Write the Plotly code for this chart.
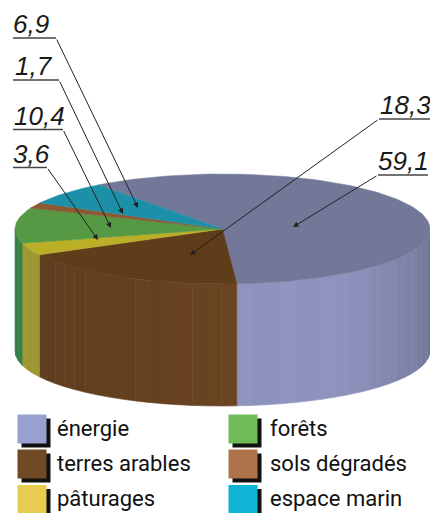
import math
import plotly.graph_objects as go

# ---- data ----
categories = ["énergie", "terres arables", "pâturages", "forêts", "sols dégradés", "espace marin"]
values = [59.1, 18.3, 3.6, 10.4, 1.7, 6.9]
value_labels = ["59,1", "18,3", "3,6", "10,4", "1,7", "6,9"]

# ---- styles ----
top_colors = ["#737899", "#5f3c1a", "#bcaf28", "#559944", "#8b5a35", "#1c90a8"]
wall_colors = ["#8e93bd", "#6b4522", "#b8b03a", "#409a54", "#7a5030", "#1c90a8"]
legend_colors = ["#98a0d0", "#6f4a25", "#e8cc50", "#6fbb55", "#ae734a", "#10b4d4"]

CX, CY, A, B, DEPTH = 222.5, 229.0, 207.5, 55.0, 122.0
START_DEG = 126.7
W, H = 430, 513


def pt(deg, dy=0.0):
    r = math.radians(deg)
    return CX + A * math.cos(r), CY - B * math.sin(r) + dy


def shade(hex_color, f):
    rgb = [int(hex_color[i:i + 2], 16) for i in (1, 3, 5)]
    return "#%02x%02x%02x" % tuple(min(255, int(c * f)) for c in rgb)


def wall_factor(deg):
    if deg < 275:
        return 0.82 + 0.18 * (deg - 180) / 95
    if deg < 305:
        return 1.0
    return 1.0 - 0.22 * (deg - 305) / 55


fig = go.Figure()

# wedge angular extents from the values
total = sum(values)
spans = []
cur = START_DEG
for v in values:
    nxt = cur - v / total * 360
    spans.append((cur, nxt))
    cur = nxt

# walls (front half only), drawn as facets
for (a0, a1), col in zip(spans, wall_colors):
    hi, lo = a0, a1
    # normalise so the visible range is 180..360
    for shift in (0, 360):
        h = min(hi + shift, 360)
        l = max(lo + shift, 180)
        if h <= l:
            continue
        n = max(1, int((h - l) / 4))
        for i in range(n):
            d0 = l + (h - l) * i / n
            d1 = l + (h - l) * (i + 1) / n
            steps = [d0 + (d1 - d0) * k / 3 for k in range(4)]
            xs = [pt(d)[0] for d in steps] + [pt(d, DEPTH)[0] for d in reversed(steps)]
            ys = [pt(d)[1] for d in steps] + [pt(d, DEPTH)[1] for d in reversed(steps)]
            c = shade(col, wall_factor((d0 + d1) / 2) * (1.015 if i % 3 == 0 else 1.0))
            fig.add_trace(go.Scatter(x=xs + xs[:1], y=ys + ys[:1], mode="lines", fill="toself",
                                     fillcolor=c, line=dict(color=c, width=0.6),
                                     hoverinfo="skip", showlegend=False))

# top face wedges
for (a0, a1), col, name in zip(spans, top_colors, categories):
    n = max(4, int((a0 - a1) / 1.5))
    ds = [a0 + (a1 - a0) * i / n for i in range(n + 1)]
    xs = [CX] + [pt(d)[0] for d in ds] + [CX]
    ys = [CY] + [pt(d)[1] for d in ds] + [CY]
    fig.add_trace(go.Scatter(x=xs, y=ys, mode="lines", fill="toself", fillcolor=col,
                             line=dict(color=col, width=0.5), name=name,
                             hoverinfo="skip", showlegend=False))

# leader lines: underline x0, x1, y, elbow x, arrow tip x, tip y, label x
leaders = {
    "6,9": (13, 56, 38, 56, 138, 208, 11),
    "1,7": (13, 59, 80, 59, 123, 214, 13),
    "10,4": (13, 63, 129.5, 63, 111, 228, 12),
    "3,6": (13, 47, 167.5, 47, 98, 240, 11),
    "18,3": (430, 379, 119, 379, 190, 255, 378),
    "59,1": (428, 378, 175, 378, 293, 227, 376),
}
for lab in value_labels:
    x0, x1, y, ex, tx, ty, lx = leaders[lab]
    fig.add_trace(go.Scatter(x=[x0, x1], y=[y, y], mode="lines",
                             line=dict(color="#444444", width=1.4),
                             hoverinfo="skip", showlegend=False))
    fig.add_annotation(x=tx, y=ty, ax=ex, ay=y, xref="x", yref="y", axref="x", ayref="y",
                       text="", showarrow=True, arrowhead=2, arrowsize=1.1, arrowwidth=1,
                       arrowcolor="#222222")
    fig.add_annotation(x=lx, y=y + 3, xref="x", yref="y", text=lab,
                       showarrow=False, xanchor="left", yanchor="bottom",
                       font=dict(family="Liberation Sans", size=26, color="#1a1a1a", style="italic"))

# legend
cols = [(32, 57), (243, 270)]
rows = [429, 464, 499.5]
for i, (name, col) in enumerate(zip(categories, legend_colors)):
    sx, tx = cols[i // 3]
    y = rows[i % 3]
    fig.add_trace(go.Scatter(x=[sx + 4], y=[y + 4], mode="markers",
                             marker=dict(symbol="square", size=29, color="#111111", line=dict(width=0)),
                             hoverinfo="skip", showlegend=False))
    fig.add_trace(go.Scatter(x=[sx], y=[y], mode="markers",
                             marker=dict(symbol="square", size=29, color=col, line=dict(width=0)),
                             hoverinfo="skip", showlegend=False))
    fig.add_trace(go.Scatter(x=[tx], y=[y + 1], mode="text", text=[name], textposition="middle right",
                             textfont=dict(family="Roboto", size=22, color="#111111"),
                             hoverinfo="skip", showlegend=False, cliponaxis=False))

fig.update_layout(width=W, height=H, autosize=False, margin=dict(l=0, r=0, t=0, b=0),
                  paper_bgcolor="white", plot_bgcolor="white", showlegend=False,
                  xaxis=dict(range=[0, W], visible=False, fixedrange=True),
                  yaxis=dict(range=[H, 0], visible=False, fixedrange=True))
fig.write_html("out.html", config={"displayModeBar": False},
               post_script="document.body.style.margin='0';document.body.style.overflow='hidden';")
